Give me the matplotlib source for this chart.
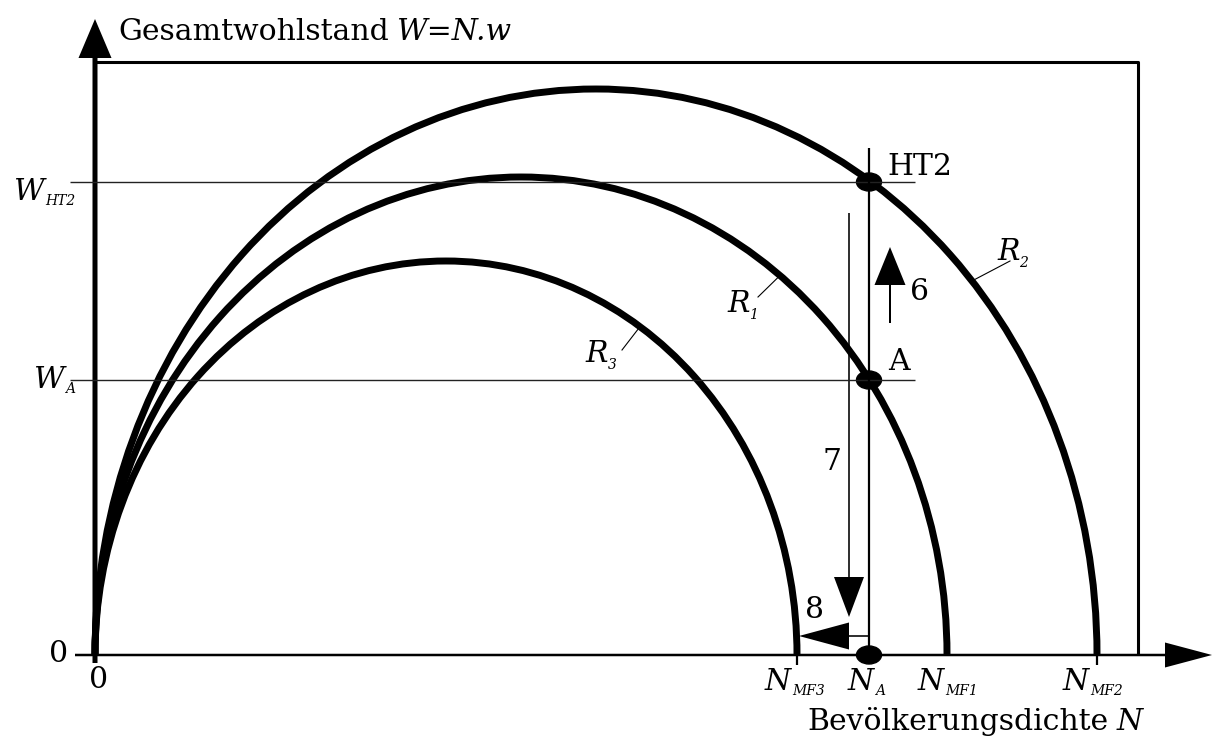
import matplotlib
matplotlib.use("Agg")
from matplotlib import pyplot as plt
from matplotlib.patches import Arc, Ellipse

plt.rcParams['font.family'] = ['DejaVu Serif']

# curves R3, R1, R2: end on the N axis (N_MF) and peak of W
curve_names = ['3', '1', '2']
n_mf = [7.02, 8.52, 10.02]
w_peak = [3.94, 4.78, 5.66]
leader_n = [5.45, 6.85, 8.77]

n_a = 7.74
w_a = 2.75
w_ht2 = 4.73
box_n = 10.43
box_w = 5.93

fig = plt.figure(figsize=(12.15, 7.37), dpi=100)
ax = fig.add_axes([0, 0, 1, 1])
ax.set_xlim(-0.95, 11.2)
ax.set_ylim(-0.82, 6.55)
ax.axis('off')

big = 21.5
small = 10

# axes with arrows
ax.arrow(0, -0.08, 0, 6.44, width=0.05, head_width=0.33, head_length=0.39,
         length_includes_head=True, color='black', lw=0)
ax.arrow(-0.2, 0, 11.37, 0, width=0.025, head_width=0.25, head_length=0.47,
         length_includes_head=True, color='black', lw=0)

# box
ax.plot([0, box_n, box_n], [box_w, box_w, 0], color='black', lw=2.2, solid_capstyle='butt')

# guide lines
ax.hlines([w_ht2, w_a], -0.25, 8.2, color='#222222', lw=1.0)
ax.vlines(n_a, 0, 5.07, color='black', lw=1.6)
ax.vlines([n_mf[0], n_mf[2]], -0.1, 0, color='black', lw=1.6)

# the three curves
for nm, wp in zip(n_mf, w_peak):
    ax.add_patch(Arc((nm / 2, 0), nm, 2 * wp, theta1=0, theta2=180,
                     color='black', lw=5.0))

# points
for w in [w_ht2, w_a, 0]:
    ax.add_patch(Ellipse((n_a, w), 0.25, 0.18, color='black'))

# arrows 6, 7, 8
ax.arrow(n_a + 0.21, w_a + 0.57, 0, 0.76, width=0.02, head_width=0.31,
         head_length=0.38, length_includes_head=True, color='black', lw=0)
ax.arrow(n_a - 0.2, 4.42, 0, -4.04, width=0.016, head_width=0.30,
         head_length=0.40, length_includes_head=True, color='black', lw=0)
ax.arrow(n_a, 0.19, -0.70, 0, width=0.016, head_width=0.27,
         head_length=0.50, length_includes_head=True, color='black', lw=0)


def label(x, y, main, sub, dx=1, dy=1):
    t = ax.text(x, y, main, fontsize=big, style='italic', va='baseline', ha='left')
    ax.annotate(sub, xy=(1, 0), xycoords=t, xytext=(dx, dy),
                textcoords='offset points', fontsize=small, style='italic',
                va='baseline', ha='left')


# axis titles
t = ax.text(0.23, 6.15, 'Gesamtwohlstand', fontsize=big, va='baseline')
ax.annotate('W=N.w', xy=(1, 0), xycoords=t, xytext=(5, 0), textcoords='offset points',
            fontsize=big, style='italic', va='bottom')
t = ax.text(7.12, -0.75, 'Bevölkerungsdichte', fontsize=big, va='baseline')
ax.annotate('N', xy=(1, 0), xycoords=t, xytext=(6, 0), textcoords='offset points',
            fontsize=big, style='italic', va='bottom')

# zero labels
ax.text(-0.36, 0.01, '0', fontsize=big, ha='center', va='center')
ax.text(0.04, -0.25, '0', fontsize=big, ha='center', va='center')

# W labels
label(-0.82, w_ht2 - 0.18, 'W', 'HT2')
label(-0.62, w_a - 0.08, 'W', 'A')

# N labels
label(n_mf[0] - 0.32, -0.35, 'N', 'MF3')
label(n_a - 0.21, -0.35, 'N', 'A')
label(n_mf[1] - 0.29, -0.35, 'N', 'MF1')
label(n_mf[2] - 0.34, -0.35, 'N', 'MF2')

# point and arrow labels
ax.text(n_a + 0.18, w_ht2 + 0.07, 'HT2', fontsize=big, va='baseline')
ax.text(n_a + 0.19, w_a + 0.10, 'A', fontsize=big, va='baseline')
ax.text(n_a + 0.41, 3.55, '6', fontsize=big, va='baseline')
ax.text(n_a - 0.47, 1.85, '7', fontsize=big, va='baseline')
ax.text(n_a - 0.64, 0.37, '8', fontsize=big, va='baseline')

# curve labels with leader lines
label_pos = [(4.90, 2.93), (6.32, 3.43), (9.02, 3.95)]
leader_end = [(5.27, 3.05), (6.63, 3.58), (9.15, 3.94)]
for name, nm, wp, ln, lp, le in zip(curve_names, n_mf, w_peak, leader_n, label_pos, leader_end):
    c = nm / 2
    w_on = wp * (1 - ((ln - c) / c) ** 2) ** 0.5
    ax.plot([ln, le[0]], [w_on, le[1]], color='black', lw=0.8)
    label(lp[0], lp[1], 'R', name, dx=0, dy=-1)

fig.savefig('out.png', dpi=100)
